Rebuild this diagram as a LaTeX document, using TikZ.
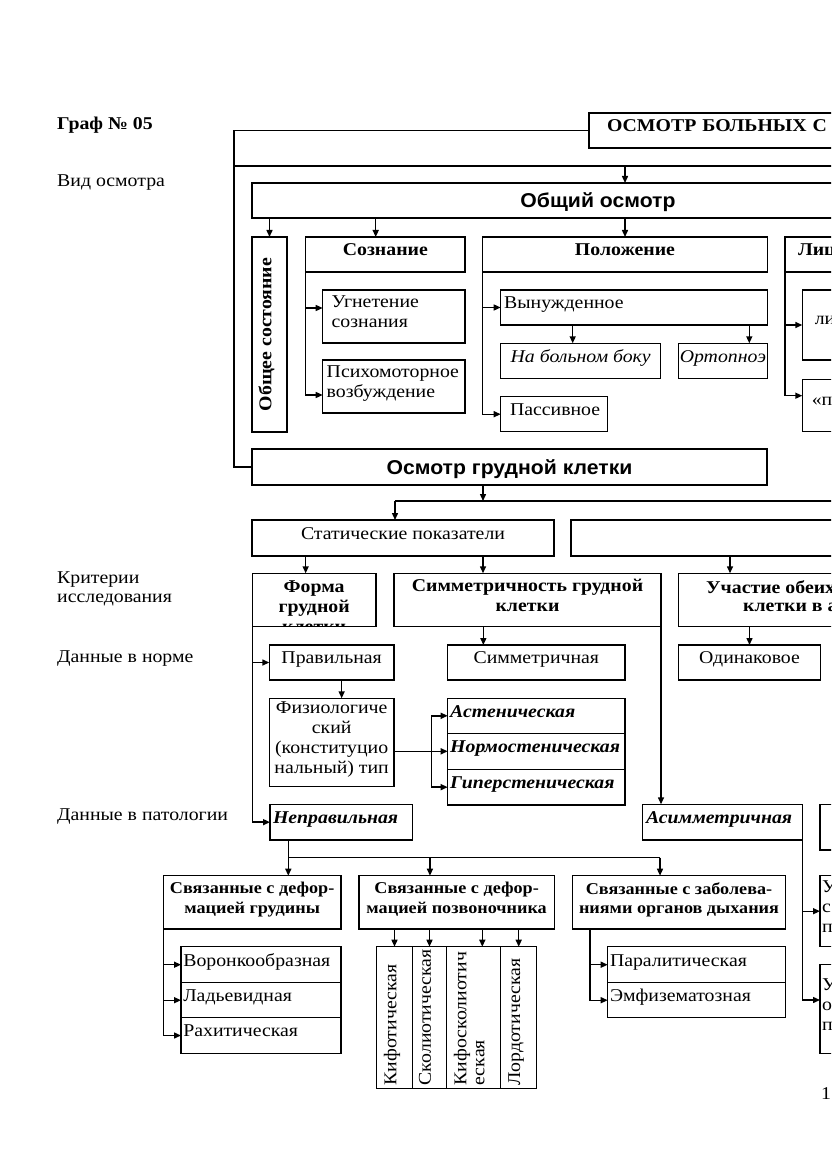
\documentclass[tikz,border=0pt]{standalone}
\usepackage{fontspec}
\setmainfont{Liberation Serif}[FakeStretch=1.1]
\newfontfamily\headsans{Liberation Sans}[FakeStretch=1.06]
\usetikzlibrary{arrows.meta}
\newcommand\bodyfont{\fontsize{18pt}{20pt}\selectfont}
\newcommand\smallbold{\fontsize{16.5pt}{19.3pt}\selectfont\bfseries}
\newcommand\headfont{\headsans\bfseries\fontsize{20pt}{22pt}\selectfont}

\begin{document}
\begin{tikzpicture}[x=1pt, y=-1pt,
  base/.style={draw, line width=1.4pt, inner sep=0pt, outer sep=0pt,
    anchor=north west, align=center},
  box/.style={base, font=\bodyfont, execute at end node={\rule[-9pt]{0pt}{9pt}}},
  hbox/.style={box, font=\bodyfont\bfseries},
  ibox/.style={box, font=\bodyfont\itshape},
  bibox/.style={box, font=\bodyfont\bfseries\itshape},
  sbox/.style={base, font=\headfont, text height=15pt, text depth=0pt},
  lbl/.style={anchor=base west, inner sep=0pt, font=\bodyfont, align=left},
  ln/.style={line width=1.4pt},
  arr/.style={ln, -{Triangle[length=7pt,width=6pt]}}]
\fill[white] (0,0) rectangle (831,1174);
\useasboundingbox (0,0) rectangle (831,1174);
\clip (0,0) rectangle (831,1174);
% Left column
\node[lbl, font=\bodyfont\bfseries] (graf) at (57,129.5) {Граф № 05};
\node[lbl] (vid) at (57,187) {Вид осмотра};
\node[lbl, anchor=north west, font=\fontsize{18pt}{19pt}\selectfont] (krit) at (57,572) {Критерии\\исследования};
\node[lbl] (norma) at (57,662) {Данные в норме};
\node[lbl] (patol) at (57,820) {Данные в патологии};
% Top: title box and general examination
\node[hbox, minimum height=35pt, text width=464pt, inner xsep=18pt, align=left] (osm) at (589,113) {ОСМОТР БОЛЬНЫХ С З};
\coordinate (bus) at (234,166);
\draw[ln] (bus) -- ++(700,0);
\node[sbox, minimum width=692pt, minimum height=35pt] (obsh) at (252,183) {Общий осмотр};
% Row: state, consciousness, position, face
\node[hbox, rotate=90, minimum width=195pt, minimum height=35pt, anchor=center] (obsost) at (269.5,334.5) {Общее состояние};
\node[hbox, minimum width=159.3pt, minimum height=35pt] (sozn) at (305.7,237) {Сознание};
\node[box, minimum height=53pt, text width=124.3pt, inner xsep=9pt, align=left] (ugn) at (322.7,290) {Угнетение\\сознания};
\node[box, minimum height=53pt, text width=134.3pt, inner xsep=4pt, align=left] (psy) at (322.7,360) {Психомоторное\\возбуждение};
\node[hbox, minimum width=284.6pt, minimum height=35pt] (polozh) at (482.7,237) {Положение};
\node[box, minimum height=35pt, text width=259.6pt, inner xsep=3.5pt, align=left] (vyn) at (500.7,290) {Вынужденное};
\node[ibox, minimum width=160pt, minimum height=35pt] (bok) at (500.7,343.3) {На больном боку};
\node[ibox, minimum height=35pt, text width=86pt, inner xsep=1.5pt, align=left] (ortop) at (678.3,343.3) {Ортопноэ};
\node[box, minimum height=35pt, text width=88pt, inner xsep=9.3pt, align=left] (pas) at (500.7,396.7) {Пассивное};
\node[hbox, minimum height=35pt, text width=174pt, inner xsep=13pt, align=left] (lic) at (785,237) {Лиц};
\node[box, minimum height=70pt, text width=75pt, inner xsep=12.5pt, align=left] (lic1) at (802.3,290) {ли};
\node[box, minimum height=52.4pt, text width=81pt, inner xsep=9.5pt, align=left] (lic2) at (802.3,379.3) {«п};
\draw[arr] (bus -| polozh.north) -- (polozh.north |- obsh.north);
\draw[arr] (obsost.east |- obsh.south) -- (obsost.east);
\draw[arr] ([xshift=70pt]sozn.north west |- obsh.south) -- ([xshift=70pt]sozn.north west);
\draw[arr] (polozh.north |- obsh.south) -- (polozh.north);
\draw[arr] (sozn.south west) |- ([yshift=8.5pt]ugn.west);
\draw[arr] (sozn.south west) |- ([yshift=-8.5pt]psy.west);
\draw[arr] (polozh.south west) |- (vyn.west);
\draw[arr] (polozh.south west) |- (pas.west);
\draw[arr] ([xshift=-8pt]bok.north |- vyn.south) -- ([xshift=-8pt]bok.north);
\draw[arr] ([xshift=26.5pt]ortop.north |- vyn.south) -- ([xshift=26.5pt]ortop.north);
\draw[arr] (lic.south west) |- (lic1.west);
\draw[arr] (lic.south west) |- ([yshift=9.8pt]lic2.west);
% Chest examination
\node[sbox, minimum width=515pt, minimum height=36pt] (grud) at (252,449) {Осмотр грудной клетки};
\draw[ln] (osm.west) -- ++(-355,0) |- (grud.west);
\coordinate (bus2) at (395,501);
\draw[ln] (bus2) -- ++(500,0);
\draw[arr] ([xshift=-26.5pt]grud.south) -- ([xshift=-26.5pt]grud.south |- bus2);
\node[box, minimum width=302pt, minimum height=36pt] (stat) at (252,520) {Статические показатели};
\node[box, minimum width=400pt, minimum height=36pt] (dyn) at (571,520) {};
\draw[arr] (bus2) -- (bus2 |- stat.north);
% Criteria
\node[hbox, minimum width=123.7pt, minimum height=53.4pt] (forma) at (252.3,573.3) {};
\begin{scope}
  \clip (forma.north west) rectangle (forma.south east);
  \node[font=\bodyfont\bfseries, align=center, inner sep=0pt] (formatxt) at ([yshift=-6.5pt]forma.center) {Форма\\грудной\\клетки};
\end{scope}
\node[hbox, minimum width=267pt, minimum height=53.4pt] (simm) at (394,573.3) {Симметричность грудной\\клетки};
\node[box, minimum width=400pt, minimum height=53.4pt] (uch) at (678.3,573.3) {};
\node[lbl, anchor=west, font=\bodyfont\bfseries] (uch1) at (706,587) {Участие обеих};
\node[lbl, anchor=west, font=\bodyfont\bfseries] (uch2) at (743,607) {клетки в а};
\draw[arr] ([xshift=-8.5pt]forma.north |- stat.south) -- ([xshift=-8.5pt]forma.north);
\draw[arr] ([xshift=-26.5pt]grud.south |- stat.south) -- ([xshift=-26.5pt]grud.south |- simm.north);
\draw[arr] ([xshift=51.7pt]uch.north west |- dyn.south) -- ([xshift=51.7pt]uch.north west);
% Norm
\node[box, minimum width=124.7pt, minimum height=35pt] (prav) at (269.3,645) {Правильная};
\node[box, minimum width=124.7pt, minimum height=88.4pt] (fiz) at (269.3,698.3) {Физиологиче\\ский\\(конституцио\\нальный) тип};
\node[box, minimum width=177.3pt, minimum height=35pt] (simn) at (447.7,645) {Симметричная};
\node[box, minimum width=142.4pt, minimum height=35pt] (odin) at (678.3,645) {Одинаковое};
\node[bibox, minimum height=35pt, text width=172.3pt, inner xsep=2.5pt, align=left] (asten) at (447.7,698.3) {Астеническая};
\node[bibox, minimum height=36pt, text width=172.3pt, inner xsep=2.5pt, align=left] (normo) at (447.7,733.3) {Нормостеническая};
\node[bibox, minimum height=35.7pt, text width=172.3pt, inner xsep=2.5pt, align=left] (giper) at (447.7,769.3) {Гиперстеническая};
\draw[arr] ([xshift=10pt]prav.south) -- ([xshift=10pt]prav.south |- fiz.north);
\draw[arr] ([xshift=-53pt]simn.north |- simm.south) -- ([xshift=-53pt]simn.north);
\draw[arr] (odin.north |- uch.south) -- (odin.north);
\coordinate (fbr) at ([xshift=-16pt]normo.west);
\draw[arr] (fiz.east |- normo.west) -- (normo.west);
\draw[arr] (fbr) |- (asten.west);
\draw[arr] (fbr) |- (giper.west);
% Pathology
\node[bibox, minimum height=35.7pt, text width=136.3pt, inner xsep=3pt, align=left] (nepr) at (270,804.3) {Неправильная};
\node[bibox, minimum height=35.7pt, text width=153pt, inner xsep=3.3pt, align=left] (asim) at (642.7,804.3) {Асимметричная};
\node[box, minimum width=100pt, minimum height=45.7pt] (rb0) at (820,804.3) {};
\node[box, minimum height=71pt, text width=96pt, inner xsep=2pt, align=left] (rb1) at (820,875.7) {У\\с\\п};
\node[box, minimum height=89pt, text width=96pt, inner xsep=2pt, align=left] (rb2) at (820,964.3) {У\\о\\п};
\draw[arr] (forma.south west) |- (prav.west);
\draw[arr] (forma.south west) |- (nepr.west);
\draw[arr] (simm.south east) -- (simm.south east |- asim.north);
\draw[arr] (asim.south east) |- (rb1.west);
\draw[arr] (asim.south east) |- ([yshift=8.8pt]rb2.west);
% Deformation groups
\node[box, font=\smallbold, minimum width=177.7pt, minimum height=53.3pt] (defgr) at (163.3,875.7) {Связанные с дефор-\\мацией грудины};
\node[box, font=\smallbold, minimum width=195.3pt, minimum height=53.3pt] (defpoz) at (359,875.7) {Связанные с дефор-\\мацией позвоночника};
\node[box, font=\smallbold, minimum width=213.4pt, minimum height=53.3pt] (defdyh) at (572.3,875.7) {Связанные с заболева-\\ниями органов дыхания};
\coordinate (nb) at ([xshift=18.3pt]nepr.south west);
\coordinate (bus3) at ([yshift=-17.7pt]nb);
\draw[arr] (nb) -- (nb |- defgr.north);
\draw[ln] (bus3) -- ++(371.7,0);
\draw[arr] ([xshift=-26.7pt]defpoz.north |- bus3) -- ([xshift=-26.7pt]defpoz.north);
\draw[arr] ([xshift=-19pt]defdyh.north |- bus3) -- ([xshift=-19pt]defdyh.north);
% Sternum
\node[box, minimum height=36pt, text width=155.4pt, inner xsep=2.3pt, align=left] (vor) at (181,946.7) {Воронкообразная};
\node[box, minimum height=35pt, text width=155.4pt, inner xsep=2.3pt, align=left] (lad) at (181,982.7) {Ладьевидная};
\node[box, minimum height=35.6pt, text width=155.4pt, inner xsep=2.3pt, align=left] (rah) at (181,1017.7) {Рахитическая};
\draw[arr] (defgr.south west) |- (vor.west);
\draw[arr] (defgr.south west) |- (lad.west);
\draw[arr] (defgr.south west) |- (rah.west);
% Spine
\node[box, rotate=90, anchor=center, minimum height=35.6pt, text width=135.6pt, inner xsep=3pt, align=left] (kif) at (394.5,1017.5) {Кифотическая};
\node[box, rotate=90, anchor=center, minimum height=34.4pt, text width=135.6pt, inner xsep=3pt, align=left] (skol) at (429.5,1017.5) {Сколиотическая};
\node[box, rotate=90, anchor=center, minimum height=54pt, text width=135.6pt, inner xsep=3pt, align=left, font=\fontsize{18pt}{18pt}\selectfont] (kifsk) at (473.7,1017.5) {Кифосколиотич\\еская};
\node[box, rotate=90, anchor=center, minimum height=36pt, text width=135.6pt, inner xsep=3pt, align=left] (lord) at (518.7,1017.5) {Лордотическая};
\draw[arr] (kif.east |- defpoz.south) -- (kif.east);
\draw[arr] (skol.east |- defpoz.south) -- (skol.east);
\draw[arr] ([xshift=8.6pt]kifsk.east |- defpoz.south) -- ([xshift=8.6pt]kifsk.east);
\draw[arr] (lord.east |- defpoz.south) -- (lord.east);
% Respiratory
\node[box, minimum height=36pt, text width=173.4pt, inner xsep=2.3pt, align=left] (paral) at (607.7,946.7) {Паралитическая};
\node[box, minimum height=35pt, text width=173.4pt, inner xsep=2.3pt, align=left] (emf) at (607.7,982.7) {Эмфизематозная};
\coordinate (dd) at ([xshift=17.7pt]defdyh.south west);
\draw[arr] (dd) |- (paral.west);
\draw[arr] (dd) |- (emf.west);
% Page number
\node[lbl] (pnum) at (821,1099) {1};
\end{tikzpicture}
\end{document}
